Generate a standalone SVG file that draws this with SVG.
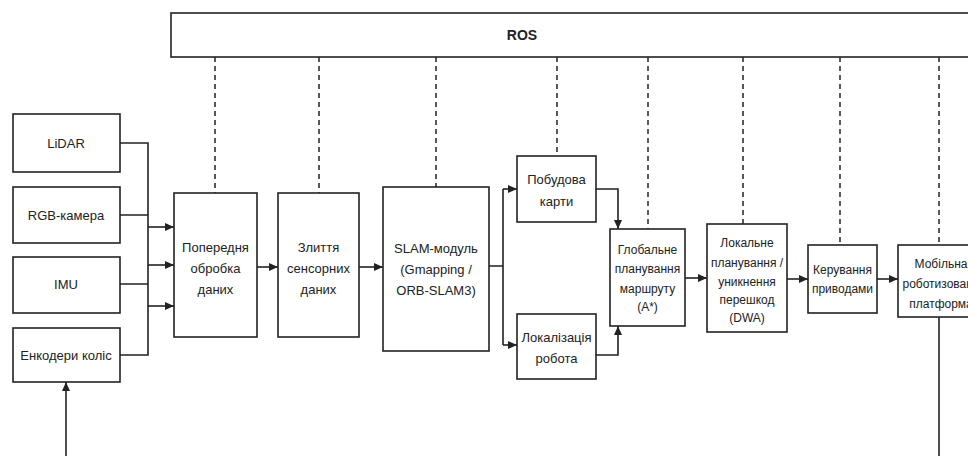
<svg xmlns="http://www.w3.org/2000/svg" width="968" height="456" viewBox="0 0 968 456">
<style>
.box{fill:#fff;stroke:#222;stroke-width:1.6}
.t{font-family:"Liberation Sans",Arial,sans-serif;font-size:13px;fill:#222;text-anchor:middle;dominant-baseline:central}
.s{font-size:12px}
.ln{fill:none;stroke:#222;stroke-width:1.6}
.ar{fill:none;stroke:#222;stroke-width:1.6;marker-end:url(#ah)}
.dash{fill:none;stroke:#222;stroke-width:1.5;stroke-dasharray:5 4}
</style>
<defs>
<marker id="ah" markerWidth="10" markerHeight="10" refX="9" refY="5" orient="auto" markerUnits="userSpaceOnUse">
<path d="M0,1 L9,5 L0,9 Z" fill="#222"/>
</marker>
</defs>
<rect width="968" height="456" fill="#fff"/>
<g id="connectors">
<path class="dash" d="M215,57V193 M319,57V193 M436,57V187 M557,57V156 M648,57V229 M743,57V224 M840,57V245 M939,57V245"/>
<path class="ln" d="M120,143H148V355H120 M120,215H148 M120,284H148"/>
<path class="ar" d="M148,227H174"/>
<path class="ar" d="M148,265H174"/>
<path class="ar" d="M148,306H174"/>
<path class="ar" d="M257,267H278"/>
<path class="ar" d="M359,267H383"/>
<path class="ln" d="M489,266H503 M503,189V345"/>
<path class="ar" d="M503,189H517"/>
<path class="ar" d="M503,345H517"/>
<path class="ar" d="M596,189H618V229"/>
<path class="ar" d="M596,355H618V326"/>
<path class="ar" d="M685,278H707"/>
<path class="ar" d="M787,279H808"/>
<path class="ar" d="M877,279H898"/>
<path class="ln" d="M939,317V456"/>
<path class="ar" d="M66,456V382"/>
</g>
<g id="ros">
<rect class="box" x="171" y="13" width="810" height="44"/>
<text class="t" x="522" y="35" style="font-size:14px;font-weight:bold">ROS</text>
</g>
<g id="lidar">
<rect class="box" x="13" y="114" width="107" height="58"/>
<text class="t" x="66" y="143">LiDAR</text>
</g>
<g id="rgb">
<rect class="box" x="13" y="187" width="107" height="56"/>
<text class="t" x="66" y="215">RGB-камера</text>
</g>
<g id="imu">
<rect class="box" x="13" y="257" width="107" height="56"/>
<text class="t" x="66" y="284">IMU</text>
</g>
<g id="encoders">
<rect class="box" x="13" y="328" width="107" height="54"/>
<text class="t" x="66" y="355">Енкодери коліс</text>
</g>
<g id="preprocessing">
<rect class="box" x="174" y="193" width="83" height="144"/>
<text class="t" x="215.5" y="247">Попередня</text>
<text class="t" x="215.5" y="268">обробка</text>
<text class="t" x="215.5" y="289">даних</text>
</g>
<g id="fusion">
<rect class="box" x="278" y="193" width="81" height="144"/>
<text class="t" x="318.5" y="247">Злиття</text>
<text class="t" x="318.5" y="268">сенсорних</text>
<text class="t" x="318.5" y="289">даних</text>
</g>
<g id="slam">
<rect class="box" x="383" y="187" width="106" height="164"/>
<text class="t" x="436" y="248">SLAM-модуль</text>
<text class="t" x="436" y="269">(Gmapping /</text>
<text class="t" x="436" y="290">ORB-SLAM3)</text>
</g>
<g id="mapping">
<rect class="box" x="517" y="156" width="79" height="66"/>
<text class="t" x="556.5" y="179">Побудова</text>
<text class="t" x="556.5" y="201">карти</text>
</g>
<g id="localization">
<rect class="box" x="517" y="314" width="79" height="65"/>
<text class="t" x="556.5" y="337">Локалізація</text>
<text class="t" x="556.5" y="358">робота</text>
</g>
<g id="global-planning">
<rect class="box" x="610" y="229" width="75" height="97"/>
<text class="t s" x="647.5" y="250">Глобальне</text>
<text class="t s" x="647.5" y="269">планування</text>
<text class="t s" x="647.5" y="289">маршруту</text>
<text class="t s" x="647.5" y="307">(A*)</text>
</g>
<g id="local-planning">
<rect class="box" x="707" y="224" width="80" height="108"/>
<text class="t s" x="747" y="243">Локальне</text>
<text class="t s" x="747" y="263">планування /</text>
<text class="t s" x="747" y="282">уникнення</text>
<text class="t s" x="747" y="300">перешкод</text>
<text class="t s" x="747" y="318">(DWA)</text>
</g>
<g id="actuators">
<rect class="box" x="808" y="245" width="69" height="68"/>
<text class="t s" x="842.5" y="270">Керування</text>
<text class="t s" x="842.5" y="289">приводами</text>
</g>
<g id="platform">
<rect class="box" x="898" y="245" width="90" height="72"/>
<text class="t s" x="941" y="264">Мобільна</text>
<text class="t s" x="941" y="284">роботизована</text>
<text class="t s" x="941" y="304">платформа</text>
</g>
</svg>
